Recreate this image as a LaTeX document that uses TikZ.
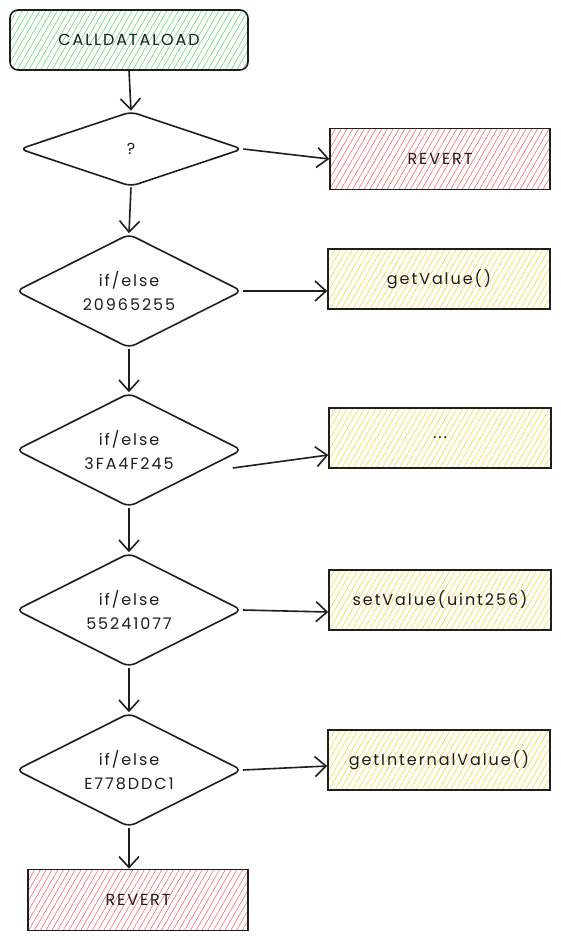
\documentclass[tikz,border=0pt]{standalone}
\usepackage{fontspec}
\setmainfont{Poppins}[LetterSpace=12]
\usetikzlibrary{shapes.geometric,arrows.meta,patterns.meta}
\definecolor{ink}{HTML}{1E1E1E}
\definecolor{hgreen}{HTML}{69DB7C}
\definecolor{hred}{HTML}{FF6B6B}
\definecolor{hyellow}{HTML}{FFD43B}
\tikzset{
  base/.style={draw=ink, line width=1.6pt, text=ink, font=\fontsize{16}{24}\selectfont, align=center, inner sep=0pt},
  hatch/.style={pattern={Lines[angle=60,distance=5pt,line width=0.6pt]}, pattern color=#1},
  startbox/.style={base, rounded corners=8pt, minimum width=238pt, minimum height=60pt, hatch=hgreen},
  redbox/.style={base, minimum width=220pt, minimum height=61pt, hatch=hred},
  yelbox/.style={base, minimum width=222pt, minimum height=60pt, hatch=hyellow},
  decide/.style={base, diamond, aspect=2, rounded corners=7pt, minimum width=226pt, minimum height=114pt},
  arr/.style={draw=ink, line width=1.6pt, -{Straight Barb[length=11pt,width=20pt,line width=1.6pt]}}
}
\begin{document}
\begin{tikzpicture}[x=1pt,y=-1pt]
\path[use as bounding box, fill=white] (0,0) rectangle (560,940);

\node[startbox] (start) at (129,40) {CALLDATALOAD};
\node[decide, minimum width=223pt, minimum height=75pt] (d1) at (131,149) {?};
\node[redbox] (rev1) at (440,159) {REVERT};
\node[decide] (d2) at (129,291) {if/else\\20965255};
\node[yelbox] (gv) at (439,279) {getValue()};
\node[decide] (d3) at (129,450) {if/else\\3FA4F245};
\node[yelbox] (dots) at (440,438) {...};
\node[decide] (d4) at (129,610) {if/else\\55241077};
\node[yelbox] (sv) at (440,600) {setValue(uint256)};
\node[decide] (d5) at (129,770) {if/else\\E778DDC1};
\node[yelbox] (giv) at (439,760) {getInternalValue()};
\node[redbox] (rev2) at (138,900) {REVERT};

\draw[arr] (start.south) -- (d1.north);
\draw[arr] (d1.east) -- (rev1.west);
\draw[arr] (d1.south) -- (d2.north);
\draw[arr] (d2.east) -- (d2.east -| gv.west);
\draw[arr] (d2.south) -- (d3.north);
\draw[arr] ([shift={(-10,18)}]d3.east) -- ([shift={(0,17)}]dots.west);
\draw[arr] (d3.south) -- (d4.north);
\draw[arr] (d4.east) -- ([shift={(0,12)}]sv.west);
\draw[arr] (d4.south) -- (d5.north);
\draw[arr] (d5.east) -- ([shift={(0,6)}]giv.west);
\draw[arr] (d5.south) -- (d5.south |- rev2.north);
\end{tikzpicture}
\end{document}
